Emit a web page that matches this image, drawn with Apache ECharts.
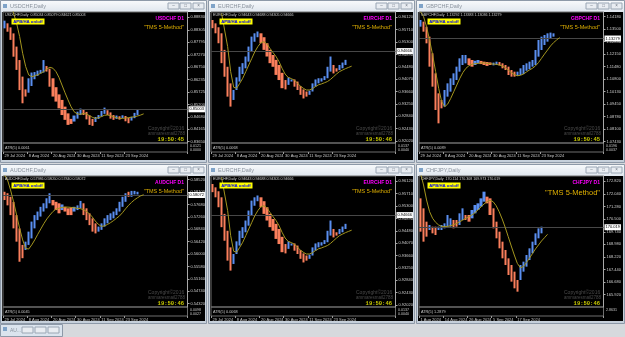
<!DOCTYPE html>
<html>
<head>
<meta charset="utf-8">
<script src="https://cdn.jsdelivr.net/npm/echarts@6/dist/echarts.min.js"></script>
<style>
html,body{margin:0;padding:0;background:#d6d9dd;}
#main{width:625px;height:337px;}
</style>
</head>
<body>
<div id="main"></div>
<script>
// trading-day slots on each chart (3px per bar)
var barSlots = 61;
var dateTicks = ['29 Jul 2024', '8 Aug 2024', '20 Aug 2024', '30 Aug 2024', '11 Sep 2024', '23 Sep 2024'];
var chfjpyDateTicks = ['1 Aug 2024', '14 Aug 2024', '26 Aug 2024', '5 Sep 2024', '17 Sep 2024'];

// heikin ashi bars [open, close, low, high]
var usdchfBars = [
	[0.8837,0.8869,0.8830,0.8879],[0.8858,0.8823,0.8816,0.8865],[0.8841,0.8789,0.8782,0.8847],[0.8816,0.8719,0.8685,0.8823],
	[0.8761,0.8664,0.8636,0.8775],[0.8705,0.8580,0.8539,0.8719],[0.8636,0.8525,0.8442,0.8650],[0.8583,0.8553,0.8497,0.8622],
	[0.8569,0.8629,0.8553,0.8678],[0.8597,0.8653,0.8580,0.8712],[0.8625,0.8655,0.8601,0.8692],[0.8639,0.8661,0.8622,0.8678],
	[0.8649,0.8664,0.8615,0.8698],[0.8653,0.8705,0.8647,0.8754],[0.8680,0.8657,0.8643,0.8692],[0.8669,0.8594,0.8574,0.8678],
	[0.8629,0.8553,0.8539,0.8643],[0.8592,0.8532,0.8518,0.8608],[0.8562,0.8504,0.8497,0.8574],[0.8539,0.8476,0.8463,0.8553],
	[0.8511,0.8456,0.8442,0.8525],[0.8483,0.8435,0.8407,0.8497],[0.8460,0.8439,0.8400,0.8483],[0.8449,0.8474,0.8435,0.8511],
	[0.8461,0.8490,0.8449,0.8518],[0.8476,0.8503,0.8469,0.8539],[0.8497,0.8476,0.8463,0.8504],[0.8489,0.8458,0.8449,0.8497],
	[0.8475,0.8435,0.8400,0.8490],[0.8460,0.8431,0.8372,0.8476],[0.8447,0.8468,0.8421,0.8518],[0.8460,0.8476,0.8449,0.8504],
	[0.8469,0.8493,0.8456,0.8539],[0.8481,0.8507,0.8469,0.8518],[0.8496,0.8476,0.8469,0.8511],[0.8487,0.8461,0.8442,0.8511],
	[0.8476,0.8456,0.8414,0.8486],[0.8460,0.8474,0.8439,0.8497],[0.8471,0.8457,0.8453,0.8522],[0.8463,0.8475,0.8449,0.8490],
	[0.8472,0.8450,0.8439,0.8483],[0.8465,0.8442,0.8431,0.8490],[0.8453,0.8469,0.8417,0.8483],[0.8463,0.8485,0.8458,0.8497],
	[0.8475,0.8500,0.8469,0.8508]
];
var usdchfMa = [null,null,0.8941,0.8900,0.8858,0.8803,0.8733,0.8678,0.8643,0.8636,0.8639,0.8644,0.8650,0.8657,0.8668,0.8675,
	0.8671,0.8657,0.8633,0.8601,0.8569,0.8539,0.8511,0.8490,0.8481,0.8479,0.8482,0.8481,0.8474,0.8467,0.8462,0.8465,
	0.8469,0.8475,0.8476,0.8474,0.8469,0.8465,0.8462,0.8462,0.8464,0.8465,0.8467,0.8469,0.8472,0.8476,0.8481];
var usdchfTicks = [0.88830,0.88305,0.87795,0.87270,0.86750,0.86235,0.85725,0.85200,0.84680,0.84165,0.83650];

var eurchfBars = [
	[0.9603,0.9576,0.9570,0.9614],[0.9592,0.9559,0.9554,0.9598],[0.9579,0.9526,0.9504,0.9581],[0.9559,0.9460,0.9448,0.9565],
	[0.9504,0.9415,0.9393,0.9526],[0.9448,0.9349,0.9205,0.9471],[0.9393,0.9316,0.9294,0.9404],[0.9338,0.9371,0.9327,0.9393],
	[0.9371,0.9413,0.9349,0.9454],[0.9399,0.9448,0.9388,0.9482],[0.9424,0.9460,0.9410,0.9476],[0.9443,0.9482,0.9432,0.9504],
	[0.9465,0.9515,0.9448,0.9548],[0.9498,0.9548,0.9493,0.9581],[0.9531,0.9559,0.9520,0.9570],[0.9546,0.9565,0.9531,0.9576],
	[0.9559,0.9526,0.9493,0.9565],[0.9546,0.9504,0.9487,0.9559],[0.9526,0.9482,0.9465,0.9537],[0.9504,0.9460,0.9448,0.9515],
	[0.9487,0.9448,0.9437,0.9498],[0.9471,0.9421,0.9404,0.9482],[0.9454,0.9404,0.9371,0.9465],[0.9428,0.9377,0.9338,0.9437],
	[0.9404,0.9373,0.9355,0.9421],[0.9388,0.9413,0.9360,0.9448],[0.9399,0.9406,0.9371,0.9432],[0.9406,0.9382,0.9366,0.9421],
	[0.9399,0.9371,0.9355,0.9410],[0.9384,0.9355,0.9338,0.9399],[0.9373,0.9343,0.9338,0.9388],[0.9366,0.9349,0.9327,0.9377],
	[0.9355,0.9369,0.9338,0.9399],[0.9366,0.9393,0.9305,0.9410],[0.9382,0.9406,0.9377,0.9432],[0.9393,0.9410,0.9382,0.9421],
	[0.9399,0.9410,0.9393,0.9421],[0.9404,0.9417,0.9399,0.9432],[0.9410,0.9448,0.9404,0.9471],[0.9432,0.9482,0.9426,0.9504],
	[0.9454,0.9426,0.9404,0.9487],[0.9443,0.9432,0.9415,0.9460],[0.9437,0.9454,0.9432,0.9465],[0.9443,0.9462,0.9421,0.9509],
	[0.9454,0.9471,0.9448,0.9476]
];
var eurchfMa = [null,null,null,0.9625,0.9570,0.9515,0.9432,0.9380,0.9377,0.9393,0.9410,0.9432,0.9454,0.9476,0.9498,0.9515,
	0.9528,0.9531,0.9524,0.9509,0.9495,0.9482,0.9465,0.9443,0.9424,0.9413,0.9409,0.9404,0.9395,0.9384,0.9377,0.9371,
	0.9371,0.9375,0.9382,0.9388,0.9391,0.9395,0.9399,0.9406,0.9415,0.9424,0.9432,0.9437,0.9442,0.9446,0.9450];
var eurchfTicks = [0.96120,0.95710,0.95300,0.94890,0.94480,0.94070,0.93660,0.93250,0.92840,0.92430,0.92020];

var gbpchfBars = [
	[1.1364,1.1400,1.1346,1.1418],[1.1391,1.1337,1.1328,1.1400],[1.1364,1.1274,1.1238,1.1373],[1.1310,1.1148,1.1130,1.1319],
	[1.1220,1.1040,1.0986,1.1238],[1.1112,1.0914,1.0770,1.1130],[1.1004,1.0842,1.0815,1.1022],[1.0968,1.0923,1.0797,1.1058],
	[1.0932,1.1022,1.0914,1.1076],[1.0986,1.1058,1.0968,1.1103],[1.1013,1.1085,1.0986,1.1121],[1.1049,1.1112,1.1040,1.1148],
	[1.1076,1.1148,1.1058,1.1184],[1.1121,1.1193,1.1094,1.1238],[1.1157,1.1211,1.1130,1.1229],[1.1166,1.1211,1.1148,1.1238],
	[1.1193,1.1157,1.1121,1.1220],[1.1184,1.1148,1.1139,1.1202],[1.1157,1.1180,1.1139,1.1211],[1.1166,1.1184,1.1157,1.1193],
	[1.1179,1.1162,1.1153,1.1193],[1.1175,1.1157,1.1148,1.1184],[1.1173,1.1152,1.1103,1.1184],[1.1171,1.1157,1.1148,1.1184],
	[1.1155,1.1170,1.1143,1.1184],[1.1157,1.1175,1.1139,1.1193],[1.1173,1.1155,1.1148,1.1184],[1.1166,1.1139,1.1130,1.1175],
	[1.1157,1.1130,1.1121,1.1166],[1.1148,1.1103,1.1076,1.1166],[1.1130,1.1094,1.1040,1.1139],[1.1121,1.1094,1.1085,1.1130],
	[1.1098,1.1121,1.1031,1.1130],[1.1103,1.1139,1.1094,1.1184],[1.1108,1.1157,1.1101,1.1175],[1.1126,1.1166,1.1119,1.1184],
	[1.1134,1.1175,1.1121,1.1193],[1.1148,1.1184,1.1139,1.1202],[1.1157,1.1238,1.1148,1.1256],[1.1202,1.1292,1.1193,1.1337],
	[1.1238,1.1310,1.1229,1.1346],[1.1265,1.1319,1.1256,1.1364],[1.1283,1.1328,1.1274,1.1373],[1.1301,1.1332,1.1292,1.1337],
	[1.1310,1.1328,1.1301,1.1332]
];
var gbpchfMa = [1.1445,1.1418,1.1364,1.1292,1.1211,1.1121,1.1031,1.0959,1.0932,1.0946,1.0977,1.1013,1.1049,1.1085,1.1116,1.1139,
	1.1153,1.1161,1.1164,1.1166,1.1168,1.1168,1.1166,1.1164,1.1162,1.1161,1.1157,1.1152,1.1143,1.1130,1.1116,1.1105,
	1.1099,1.1101,1.1108,1.1119,1.1130,1.1139,1.1152,1.1170,1.1193,1.1216,1.1238,1.1260,1.1278,1.1292,1.1305];
var gbpchfTicks = [1.14180,1.13500,1.12830,1.12150,1.11480,1.10800,1.10130,1.09450,1.08780,1.08100,1.07430];

var audchfBars = [
	[0.5811,0.5783,0.5777,0.5840],[0.5806,0.5765,0.5760,0.5814],[0.5794,0.5732,0.5721,0.5802],[0.5777,0.5687,0.5676,0.5783],
	[0.5732,0.5642,0.5631,0.5744],[0.5687,0.5574,0.5433,0.5698],[0.5631,0.5586,0.5563,0.5648],[0.5614,0.5642,0.5597,0.5670],
	[0.5631,0.5676,0.5619,0.5695],[0.5653,0.5710,0.5642,0.5726],[0.5687,0.5732,0.5676,0.5749],[0.5715,0.5744,0.5706,0.5758],
	[0.5727,0.5760,0.5721,0.5777],[0.5744,0.5772,0.5737,0.5784],[0.5755,0.5789,0.5744,0.5811],[0.5772,0.5806,0.5765,0.5817],
	[0.5783,0.5765,0.5755,0.5791],[0.5777,0.5749,0.5740,0.5784],[0.5772,0.5738,0.5719,0.5777],[0.5749,0.5768,0.5744,0.5775],
	[0.5760,0.5744,0.5737,0.5768],[0.5755,0.5732,0.5726,0.5765],[0.5757,0.5732,0.5715,0.5789],[0.5744,0.5760,0.5738,0.5768],
	[0.5749,0.5765,0.5744,0.5772],[0.5755,0.5780,0.5744,0.5789],[0.5772,0.5732,0.5726,0.5777],[0.5755,0.5715,0.5706,0.5765],
	[0.5738,0.5698,0.5687,0.5745],[0.5721,0.5676,0.5665,0.5732],[0.5704,0.5670,0.5642,0.5715],[0.5676,0.5693,0.5642,0.5710],
	[0.5682,0.5704,0.5670,0.5715],[0.5693,0.5721,0.5687,0.5732],[0.5704,0.5732,0.5698,0.5740],[0.5715,0.5738,0.5710,0.5745],
	[0.5721,0.5744,0.5715,0.5751],[0.5732,0.5755,0.5726,0.5760],[0.5744,0.5777,0.5738,0.5794],[0.5760,0.5794,0.5755,0.5817],
	[0.5777,0.5806,0.5772,0.5814],[0.5811,0.5794,0.5789,0.5845],[0.5794,0.5814,0.5789,0.5817],[0.5802,0.5814,0.5797,0.5817],
	[0.5802,0.5811,0.5797,0.5814]
];
var audchfMa = [0.5868,0.5851,0.5817,0.5777,0.5732,0.5687,0.5648,0.5619,0.5617,0.5631,0.5648,0.5667,0.5685,0.5703,0.5719,0.5732,
	0.5744,0.5752,0.5755,0.5758,0.5759,0.5759,0.5758,0.5757,0.5755,0.5754,0.5751,0.5745,0.5737,0.5726,0.5712,0.5701,
	0.5694,0.5695,0.5700,0.5706,0.5713,0.5721,0.5729,0.5740,0.5753,0.5765,0.5775,0.5784,0.5791,0.5797,0.5801];
var audchfTicks = [0.58520,0.58100,0.57680,0.57260,0.56840,0.56420,0.56000,0.55580,0.55160,0.54740,0.54320];

var chfjpyBars = [
	[171.777,169.750,166.811,171.878],[171.169,169.142,168.939,171.473],[170.358,169.446,168.737,170.764],[169.851,170.155,169.547,170.358],
	[170.054,169.649,169.547,170.257],[170.054,169.547,169.446,170.764],[169.851,170.054,169.750,170.155],[169.851,170.155,169.142,170.865],
	[169.953,170.257,169.851,170.358],[170.054,170.764,169.750,171.574],[170.054,170.561,168.534,170.865],[170.459,169.953,169.851,170.561],
	[170.459,170.054,169.547,171.372],[170.155,170.865,169.953,171.777],[170.459,171.169,170.358,171.372],[170.764,170.459,169.547,171.270],
	[170.764,170.358,170.155,170.966],[170.561,171.068,170.459,171.878],[170.865,171.372,170.764,171.574],[171.068,171.473,170.966,171.676],
	[171.270,171.777,171.169,172.284],[171.574,172.182,171.473,172.790],[171.878,171.473,171.372,172.385],[171.777,170.764,170.561,171.878],
	[171.169,169.953,169.750,171.270],[170.358,169.345,169.142,170.561],[169.750,168.737,168.128,169.953],[169.142,168.128,167.926,169.345],
	[168.635,167.723,167.622,168.737],[168.128,167.115,166.710,168.331],[167.723,166.710,166.304,167.926],[167.318,166.304,165.797,167.622],
	[166.811,166.101,165.290,167.115],[166.811,167.723,166.710,167.926],[167.318,167.926,167.115,168.128],[167.622,168.331,167.622,168.939],
	[168.027,168.737,167.926,168.939],[168.433,169.142,168.331,170.561],[168.939,169.649,168.838,170.358],[169.345,169.953,169.243,170.561],
	[169.649,170.054,169.649,170.358]
];
var chfjpyMa = [173.297,172.588,171.676,170.966,170.561,170.317,170.155,170.074,170.054,170.074,170.115,170.176,170.257,170.358,170.459,
	170.561,170.662,170.764,170.905,171.068,171.250,171.432,171.574,171.655,171.574,171.331,170.966,170.520,170.013,169.446,
	168.879,168.331,167.824,167.561,167.622,167.865,168.128,168.412,168.696,168.939,169.182,169.385,169.588];
var chfjpyTicks = [172.820,172.040,171.280,170.500,169.740,168.980,168.220,167.440,166.680,165.920,165.160];

var panels = [
	{x: 0, y: 0, w: 207, h: 162, name: 'USDCHF', header: 'USDCHF,Daily  0.85034 0.85079 0.84621 0.85003', bars: usdchfBars, ma: usdchfMa,
		ticks: usdchfTicks, min: 0.83596, max: 0.89051, price: 0.85003, digits: 5, atr: 'ATR(5) 0.0061', atrTicks: ['0.0121', '0.0000'], clock: '19:50:45', dates: dateTicks},
	{x: 208, y: 0, w: 207, h: 162, name: 'EURCHF', header: 'EURCHF,Daily  0.94643 0.94688 0.94305 0.94666', bars: eurchfBars, ma: eurchfMa,
		ticks: eurchfTicks, min: 0.91953, max: 0.96296, price: 0.94666, digits: 5, atr: 'ATR(5) 0.0068', atrTicks: ['0.0137', '0.0040'], clock: '19:50:46', dates: dateTicks},
	{x: 416, y: 0, w: 209, h: 162, name: 'GBPCHF', header: 'GBPCHF,Daily  1.13292 1.13383 1.13036 1.13279', bars: gbpchfBars, ma: gbpchfMa,
		ticks: gbpchfTicks, min: 1.07358, max: 1.14432, price: 1.13279, digits: 5, atr: 'ATR(5) 0.0089', atrTicks: ['0.0196', '0.0037'], clock: '19:50:45', dates: dateTicks},
	{x: 0, y: 164, w: 207, h: 159, name: 'AUDCHF', header: 'AUDCHF,Daily  0.57986 0.58050 0.57840 0.58072', bars: audchfBars, ma: audchfMa,
		ticks: audchfTicks, min: 0.54207, max: 0.58644, price: 0.58072, digits: 5, atr: 'ATR(5) 0.0045', atrTicks: ['0.0098', '0.0027'], clock: '19:50:46', dates: dateTicks},
	{x: 208, y: 164, w: 207, h: 159, name: 'EURCHF', header: 'EURCHF,Daily  0.94643 0.94688 0.94305 0.94666', bars: eurchfBars, ma: eurchfMa,
		ticks: eurchfTicks, min: 0.91953, max: 0.96296, price: 0.94666, digits: 5, atr: 'ATR(5) 0.0068', atrTicks: ['0.0137', '0.0040'], clock: '19:50:46', dates: dateTicks},
	{x: 416, y: 164, w: 209, h: 159, name: 'CHFJPY', header: 'CHFJPY,Daily  170.114 170.308 169.973 170.019', bars: chfjpyBars, ma: chfjpyMa,
		ticks: chfjpyTicks, min: 165.169, max: 173.135, price: 170.019, digits: 3, atr: 'ATR(5) 1.2879', atrTicks: ['2.8631', ''], clock: '19:50:46', dates: chfjpyDateTicks, big: true}
];

var upBody = '#5a8ff0', downBody = '#fb7f5c', upWick = '#22b422', downWick = '#b01414';
var font = 'Liberation Sans';
var slotNames = [];
for (var s = 0; s < barSlots; s++) slotNames.push(String(s));

var grids = [], xAxes = [], yAxes = [], series = [], graphics = [];

function txt(x, y, text, size, color, opt) {
	opt = opt || {};
	graphics.push({
		type: 'text', x: x, y: y, z: 50, silent: true,
		style: {text: text, fontSize: size, fill: color, fontFamily: opt.family || font, fontWeight: opt.weight || 'normal',
			fontStyle: opt.style || 'normal', align: opt.align || 'left', verticalAlign: 'middle'}
	});
}
function box(x, y, w, h, fill, stroke, z) {
	graphics.push({type: 'rect', z: z === undefined ? -10 : z, silent: true, shape: {x: x, y: y, width: w, height: h},
		style: {fill: fill, stroke: stroke || null, lineWidth: 1}});
}

panels.forEach(function(p, k) {
	var x0 = p.x, y0 = p.y, w = p.w;
	// window chrome
	box(x0 + 0.5, y0 + 0.5, w - 1, p.h, '#c6d0db', '#8d99a8');
	graphics.push({type: 'rect', z: -9, silent: true, shape: {x: x0 + 1, y: y0 + 1, width: w - 2, height: 11},
		style: {fill: new echarts.graphic.LinearGradient(0, 0, 0, 1, [{offset: 0, color: '#f7f9fb'}, {offset: 1, color: '#dfe6ee'}])}});
	box(x0 + 3, y0 + 4, 4, 4, '#7fa3c8', null, -8);
	txt(x0 + 10, y0 + 6.5, p.name + ',Daily', 5.5, '#8a939e');
	[w - 39, w - 27, w - 14].forEach(function(bx, j) {
		box(x0 + bx, y0 + 3, 11, 6, '#e9edf2', '#9aa6b4', -8);
		txt(x0 + bx + 5.5, y0 + 6, j === 0 ? '–' : (j === 1 ? '□' : '×'), 4.5, '#6c7480', {align: 'center'});
	});
	box(x0 + 2, y0 + 12, w - 4, p.h - 14, '#000000', null, -7);

	var gl = x0 + 3, gw = 184.5;
	var gi = grids.length;
	grids.push({left: gl, top: y0 + 12, width: gw, height: 131, show: true, borderColor: '#6e6e6e', borderWidth: 1, outerBoundsMode: 'none'});
	grids.push({left: gl, top: y0 + 143, width: gw, height: 9, show: true, borderColor: '#6e6e6e', borderWidth: 1, outerBoundsMode: 'none'});

	var step = 8;
	var lastLab = (p.dates.length - 1) * step;
	var showDate = function(idx) { return idx % step === 0 && idx <= lastLab; };
	xAxes.push({type: 'category', gridIndex: gi, data: slotNames, boundaryGap: true,
		axisLine: {show: false}, axisTick: {show: false}, axisLabel: {show: false}, splitLine: {show: false}});
	xAxes.push({type: 'category', gridIndex: gi + 1, data: slotNames, boundaryGap: true, position: 'bottom',
		axisLine: {show: false},
		axisTick: {show: true, interval: showDate, length: 2, lineStyle: {color: '#9a9a9a'}},
		axisLabel: {show: true, interval: showDate, margin: 2, fontSize: 4, color: '#c8c8c8', fontFamily: font, align: 'left',
			formatter: function(v, idx) { return p.dates[idx / step]; }},
		splitLine: {show: false}});
	yAxes.push({type: 'value', gridIndex: gi, position: 'right', min: p.min, max: p.max, scale: true,
		axisLine: {show: true, lineStyle: {color: '#a8a8a8'}},
		axisTick: {show: true, customValues: p.ticks, length: 2, lineStyle: {color: '#a8a8a8'}},
		axisLabel: {show: true, customValues: p.ticks, margin: 3, fontSize: 4, color: '#cfcfcf', fontFamily: font,
			formatter: function(v) { return v.toFixed(p.digits); }},
		splitLine: {show: false}});
	yAxes.push({type: 'value', gridIndex: gi + 1, min: 0, max: 1, show: false});

	// real range lines under the heikin ashi bodies
	series.push({type: 'candlestick', xAxisIndex: gi, yAxisIndex: gi, barWidth: 1, z: 3,
		itemStyle: {color: upWick, color0: downWick, borderWidth: 0},
		data: p.bars.map(function(b) { return b[1] >= b[0] ? [b[2], b[3], b[2], b[3]] : [b[3], b[2], b[2], b[3]]; })});
	series.push({type: 'candlestick', xAxisIndex: gi, yAxisIndex: gi, barWidth: 2.7, z: 4,
		itemStyle: {color: upBody, color0: downBody, borderWidth: 0},
		data: p.bars.map(function(b) { return [b[0], b[1], Math.min(b[0], b[1]), Math.max(b[0], b[1])]; }),
		markLine: {silent: true, symbol: 'none', animation: false,
			lineStyle: {color: '#474747', width: 1, type: 'solid'},
			label: {position: 'end', distance: 1, formatter: p.price.toFixed(p.digits), backgroundColor: '#ffffff', color: '#000000',
				fontSize: 4, fontFamily: font, padding: [1, 1]},
			data: [{yAxis: p.price}]}});
	series.push({type: 'line', xAxisIndex: gi, yAxisIndex: gi, data: p.ma, showSymbol: false, z: 5, clip: true,
		lineStyle: {color: '#a3951e', width: 1}});

	// overlay texts
	txt(x0 + 5, y0 + 15, p.header, 3.6, '#d0d0d0');
	box(x0 + 11.5, y0 + 18.5, 33, 6, '#ffff00', null, 40);
	txt(x0 + 28, y0 + 21.6, 'APB/HA on/off', 4.3, '#0000ee', {weight: 'bold', align: 'center'});
	txt(x0 + 184, y0 + 19, p.name + ' D1', 5, '#ff00ff', {weight: 'bold', align: 'right'});
	txt(x0 + 184, y0 + (p.big ? 29 : 27), '"TMS 5-Method"', p.big ? 7.5 : 5.5, '#e0b000', {align: 'right'});
	txt(x0 + 148, y0 + 128.5, 'Copyright©2016', 5, '#4a4a4a');
	txt(x0 + 148, y0 + 133.5, 'ammaresmail2788', 4.5, '#4a4a4a');
	txt(x0 + 184, y0 + 139.5, p.clock, 5.5, '#c8c800', {family: 'Liberation Mono', weight: 'bold', align: 'right'});
	txt(x0 + 5, y0 + 147.5, p.atr, 3.8, '#c8c8c8');
	txt(x0 + 190, y0 + 146, p.atrTicks[0], 3.6, '#c8c8c8');
	txt(x0 + 190, y0 + 149.5, p.atrTicks[1], 3.6, '#c8c8c8');
});

// minimised window in the MDI strip
box(0.5, 324.5, 62, 12, '#dbe4ee', '#8d99a8', -6);
box(3, 327, 4, 4, '#7fa3c8', null, -5);
txt(10, 330.5, 'AU...', 5, '#8a939e');
[22, 35, 48].forEach(function(bx) { box(bx, 327, 11, 6, '#e9edf2', '#9aa6b4', -5); });

var chart = echarts.init(document.getElementById('main'));
chart.setOption({
	backgroundColor: '#d6d9dd',
	animation: false,
	grid: grids,
	xAxis: xAxes,
	yAxis: yAxes,
	series: series,
	graphic: {elements: graphics}
});
</script>
</body>
</html>
